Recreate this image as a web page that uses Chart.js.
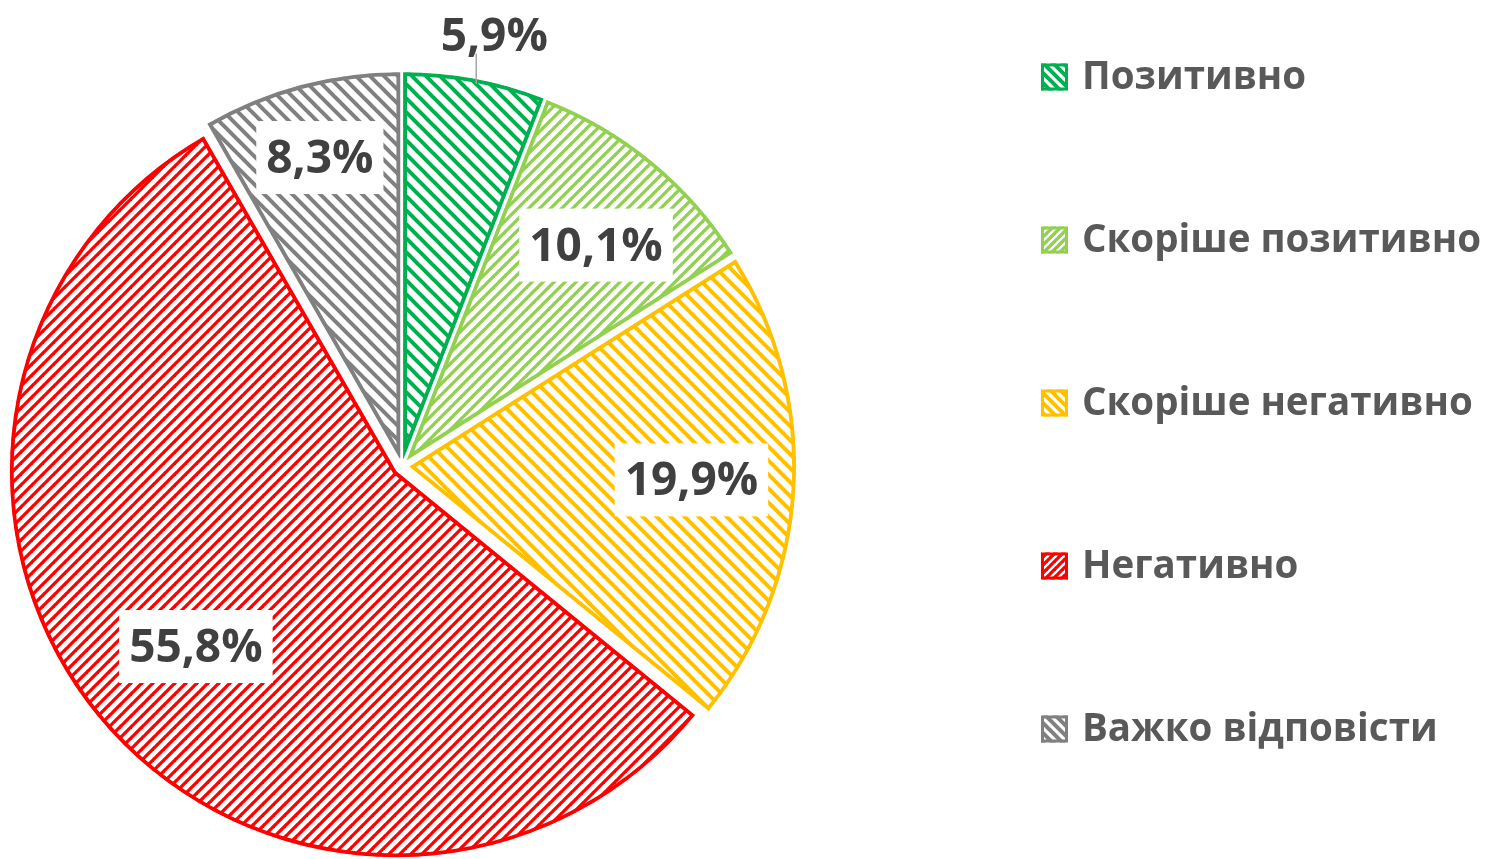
<!DOCTYPE html>
<html>
<head>
<meta charset="utf-8">
<script src="https://cdn.jsdelivr.net/npm/chart.js@4/dist/chart.umd.min.js"></script>
<style>
  html, body { margin: 0; padding: 0; background: #fff; }
  #wrap { width: 1485px; height: 859px; position: relative; }
</style>
</head>
<body>
<div id="wrap"><canvas id="pie"></canvas></div>
<script>
"use strict";

// data
var labels = ["Позитивно", "Скоріше позитивно", "Скоріше негативно", "Негативно", "Важко відповісти"];
var values = [5.9, 10.1, 19.9, 55.8, 8.3];
var colors = ["#00B050", "#92D050", "#FFC000", "#FF0000", "#808080"];
// hatch direction per slice: "\" = down, "/" = up
var hatchDir = ["down", "up", "down", "up", "down"];
// where each value label sits: share of the radius, and a nudge off the mid angle (deg)
var labelRadius = [1.12, 0.74, 0.73, 0.69, 0.805];
var labelNudge = [1.5, 2, -0.6, -1, 0];

var FONT = "'Open Sans', 'Noto Sans', sans-serif";
var EXPLODE = 8;

function hatch(color, dir, size, lw) {
  var c = document.createElement("canvas");
  c.width = size; c.height = size;
  var g = c.getContext("2d");
  g.fillStyle = "#fff";
  g.fillRect(0, 0, size, size);
  g.strokeStyle = color;
  g.lineWidth = lw;
  g.lineCap = "square";
  for (var k = -1; k <= 1; k++) {
    g.beginPath();
    if (dir === "down") {
      g.moveTo(k * size, 0);
      g.lineTo(k * size + size, size);
    } else {
      g.moveTo(k * size, size);
      g.lineTo(k * size + size, 0);
    }
    g.stroke();
  }
  return g.createPattern(c, "repeat");
}

function slicePattern(i, scale) {
  var down = hatchDir[i] === "down";
  return hatch(colors[i], hatchDir[i], Math.round((down ? 14 : 11) * scale), down ? 4 : 3.3);
}

var patterns = colors.map(function (c, i) { return slicePattern(i, 1); });

function fmt(v) { return v.toFixed(1).replace(".", ",") + "%"; }

// Chart.js v4 arc "offset" also grows the radius of wide slices, so the
// explode is done by nudging each arc's centre along its mid angle instead.
var explode = {
  id: "explode",
  afterDatasetUpdate: function (chart, args) {
    args.meta.data.forEach(function (arc) {
      var mid = (arc.startAngle + arc.endAngle) / 2;
      arc.x += Math.cos(mid) * EXPLODE;
      arc.y += Math.sin(mid) * EXPLODE;
    });
  }
};

var valueLabels = {
  id: "valueLabels",
  afterDatasetsDraw: function (chart) {
    var ctx = chart.ctx;
    var meta = chart.getDatasetMeta(0);
    ctx.save();
    ctx.font = "bold 46px " + FONT;
    ctx.textAlign = "center";
    ctx.textBaseline = "middle";
    meta.data.forEach(function (arc, i) {
      var p = arc.getProps(["x", "y", "startAngle", "endAngle", "outerRadius"], true);
      var mid = (p.startAngle + p.endAngle) / 2 + labelNudge[i] * Math.PI / 180;
      var d = p.outerRadius * labelRadius[i];
      var lx = p.x + Math.cos(mid) * d;
      var ly = p.y + Math.sin(mid) * d;
      var txt = fmt(values[i]);
      var w = ctx.measureText(txt).width;
      if (labelRadius[i] > 1) {
        // leader line down to the slice edge
        ctx.strokeStyle = "#A6A6A6";
        ctx.lineWidth = 1.5;
        ctx.beginPath();
        ctx.moveTo(lx - 18, ly + 18);
        ctx.lineTo(lx - 18, p.y + Math.sin(mid) * p.outerRadius + 3);
        ctx.stroke();
      } else {
        ctx.fillStyle = "#fff";
        ctx.fillRect(lx - w / 2 - 10, ly - 37, w + 20, 73);
      }
      ctx.fillStyle = "#404040";
      ctx.fillText(txt, lx, ly + 2);
    });
    ctx.restore();
  }
};

var sideLegend = {
  id: "sideLegend",
  afterDraw: function (chart) {
    var ctx = chart.ctx;
    var x = 1041, y0 = 77, step = 163, box = 27;
    ctx.save();
    ctx.font = "bold 38.5px " + FONT;
    ctx.textBaseline = "middle";
    labels.forEach(function (lab, i) {
      var y = y0 + i * step;
      ctx.fillStyle = slicePattern(i, 0.7);
      ctx.fillRect(x, y - box / 2, box, box);
      ctx.strokeStyle = colors[i];
      ctx.lineWidth = 3;
      ctx.strokeRect(x + 1.5, y - box / 2 + 1.5, box - 3, box - 3);
      ctx.fillStyle = "#595959";
      ctx.fillText(lab, x + 41, y + 1);
    });
    ctx.restore();
  }
};

new Chart(document.getElementById("pie"), {
  type: "pie",
  data: {
    labels: labels,
    datasets: [{
      data: values,
      backgroundColor: patterns,
      borderColor: colors,
      borderWidth: 3.5,
      borderAlign: "inner",
      hoverOffset: 0,
    }],
  },
  options: {
    responsive: true, maintainAspectRatio: false,
    animation: false,
    radius: 386,
    layout: { padding: { left: 0, right: 681, top: 73, bottom: 0 } },
    plugins: {
      legend: { display: false },
      tooltip: { enabled: false },
    },
  },
  plugins: [explode, valueLabels, sideLegend],
});
</script>
</body>
</html>
